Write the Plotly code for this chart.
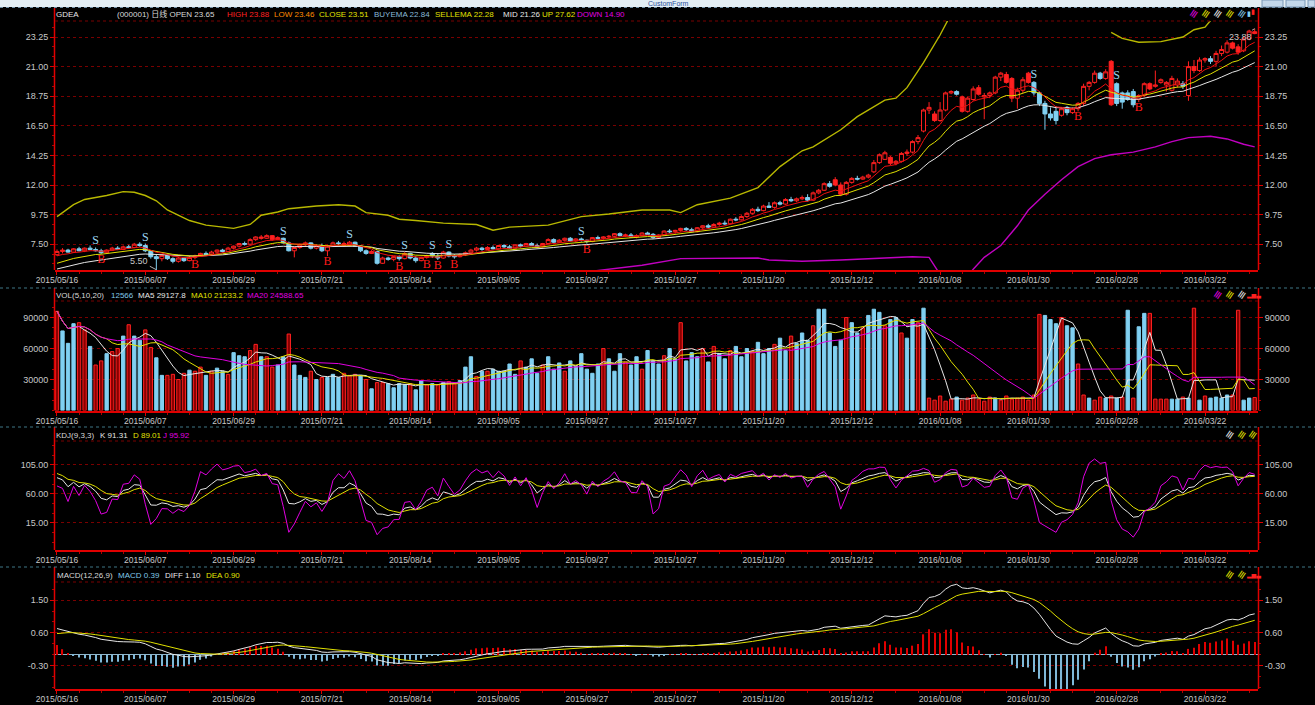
import plotly.graph_objects as go

W, H = 1315, 705
FONT = "Liberation Sans, Arial, Noto Sans CJK SC, sans-serif"

# ---------------- data ----------------
date_labels = ["2015/05/16", "2015/06/07", "2015/06/29", "2015/07/21", "2015/08/14",
               "2015/09/05", "2015/09/27", "2015/10/27", "2015/11/20", "2015/12/12",
               "2016/01/08", "2016/01/30", "2016/02/28", "2016/03/22"]
date_pos = [0, 16, 32, 48, 64, 80, 96, 112, 128, 144, 160, 176, 192, 208]

opens = [6.70, 6.95, 7.05, 6.90, 7.15, 7.00, 7.20, 7.10, 7.00, 6.85,
         7.05, 7.20, 7.10, 7.30, 7.25, 7.50, 7.40, 7.00, 6.55, 6.40,
         6.65, 6.40, 6.20, 6.45, 6.25, 6.50, 6.60, 6.80, 6.70, 6.90,
         7.05, 6.95, 7.20, 7.35, 7.55, 7.50, 7.85, 8.05, 7.95, 8.15,
         7.85, 7.95, 7.60, 7.00, 7.25, 7.45, 7.60, 7.20, 7.40, 7.00,
         7.35, 7.60, 7.55, 7.40, 7.65, 7.35, 7.00, 6.80, 6.95, 6.05,
         6.45, 6.35, 6.55, 6.40, 6.80, 6.45, 6.25, 6.50, 6.80, 6.60,
         6.45, 6.90, 6.60, 6.55, 6.70, 6.85, 7.05, 7.20, 7.10, 7.25,
         7.15, 7.40, 7.30, 7.20, 7.45, 7.35, 7.55, 7.40, 7.30, 7.55,
         7.85, 7.65, 7.80, 7.95, 7.75, 7.90, 7.80, 7.70, 8.00, 7.95,
         8.05, 8.10, 8.30, 8.15, 8.20, 8.05, 8.15, 8.35, 8.25, 8.00,
         8.20, 8.50, 8.45, 8.55, 8.70, 8.60, 8.45, 8.75, 8.90, 8.80,
         9.00, 9.10, 9.05, 9.40, 9.35, 9.60, 9.85, 10.15, 10.05, 10.40,
         10.30, 10.65, 10.55, 10.90, 10.80, 10.95, 11.05, 10.85, 11.40, 11.60,
         12.10, 12.40, 12.00, 11.30, 12.20, 12.50, 12.45, 12.60, 13.00, 13.70,
         13.95, 14.10, 13.65, 13.80, 14.40, 14.50, 15.30, 16.10, 17.70, 17.40,
         16.90, 17.70, 19.00, 19.10, 18.70, 17.60, 18.50, 19.40, 18.70, 18.80,
         19.00, 20.20, 20.40, 20.10, 18.60, 19.20, 20.50, 19.80, 19.00, 18.20,
         17.40, 17.60, 17.30, 17.90, 17.50, 17.80, 18.20, 19.50, 19.80, 20.50,
         20.10, 21.40, 19.70, 19.00, 19.00, 19.10, 18.50, 18.80, 19.70, 19.50,
         19.80, 19.60, 19.20, 19.60, 19.70, 18.80, 21.00, 20.70, 21.50, 21.60,
         21.40, 22.00, 22.10, 22.80, 22.50, 22.20, 23.10, 23.65]

highs = [7.10, 7.20, 7.15, 7.20, 7.30, 7.25, 7.40, 7.25, 7.15, 7.10,
         7.30, 7.35, 7.40, 7.45, 7.60, 7.65, 7.55, 7.05, 6.70, 6.75,
         6.70, 6.50, 6.55, 6.50, 6.60, 6.70, 6.85, 6.95, 7.00, 7.10,
         7.15, 7.30, 7.40, 7.60, 7.70, 7.95, 8.10, 8.20, 8.25, 8.20,
         8.10, 8.00, 7.70, 7.30, 7.55, 7.70, 7.65, 7.50, 7.55, 7.45,
         7.70, 7.75, 7.70, 7.75, 7.70, 7.40, 7.10, 7.05, 7.00, 6.55,
         6.55, 6.60, 6.65, 6.90, 6.85, 6.60, 6.55, 6.70, 6.90, 6.80,
         7.00, 6.95, 6.75, 6.80, 6.95, 7.15, 7.30, 7.30, 7.35, 7.40,
         7.45, 7.50, 7.45, 7.50, 7.55, 7.60, 7.65, 7.55, 7.60, 7.95,
         7.95, 7.90, 8.00, 8.05, 7.95, 8.00, 7.85, 8.05, 8.15, 8.10,
         8.20, 8.35, 8.40, 8.30, 8.35, 8.25, 8.40, 8.45, 8.35, 8.25,
         8.55, 8.65, 8.60, 8.75, 8.80, 8.75, 8.80, 8.95, 9.05, 9.10,
         9.20, 9.30, 9.45, 9.55, 9.70, 9.95, 10.25, 10.35, 10.50, 10.70,
         10.75, 10.80, 11.00, 11.10, 11.05, 11.20, 11.30, 11.50, 11.70, 12.20,
         12.30, 12.60, 12.20, 12.30, 12.60, 12.70, 12.70, 12.85, 13.90, 14.40,
         14.60, 14.20, 13.90, 14.50, 14.70, 15.40, 15.80, 17.80, 18.30, 17.60,
         18.30, 19.10, 19.20, 19.20, 18.80, 18.70, 19.50, 19.60, 19.00, 19.10,
         20.30, 20.60, 20.60, 20.20, 19.40, 20.20, 20.60, 19.90, 19.10, 18.40,
         17.90, 18.00, 17.90, 18.00, 17.90, 18.30, 19.70, 19.90, 20.70, 20.60,
         20.80, 21.50, 19.80, 19.10, 19.20, 19.30, 18.90, 19.80, 19.80, 20.70,
         20.10, 19.90, 20.30, 20.10, 19.90, 21.40, 21.50, 21.70, 21.70, 21.80,
         22.20, 22.60, 23.00, 22.90, 22.70, 23.30, 23.80, 23.88]

lows = [6.60, 6.80, 6.85, 6.85, 6.95, 6.90, 7.05, 6.95, 6.75, 6.80,
        7.00, 7.05, 7.05, 7.15, 7.20, 7.30, 6.90, 6.40, 5.50, 6.20,
        6.30, 6.05, 6.10, 6.15, 6.20, 6.35, 6.55, 6.60, 6.65, 6.80,
        6.85, 6.90, 7.10, 7.25, 7.40, 7.45, 7.75, 7.85, 7.90, 7.75,
        7.80, 7.55, 6.95, 6.50, 7.15, 7.35, 7.10, 7.10, 6.90, 6.60,
        7.30, 7.45, 7.30, 7.35, 7.30, 6.90, 6.70, 6.75, 5.95, 6.00,
        6.25, 6.20, 6.25, 6.35, 6.35, 6.10, 6.20, 6.40, 6.45, 6.30,
        6.40, 6.50, 6.40, 6.50, 6.60, 6.80, 6.95, 7.00, 7.05, 7.10,
        7.10, 7.20, 7.15, 7.15, 7.25, 7.30, 7.35, 7.20, 7.25, 7.50,
        7.55, 7.60, 7.70, 7.70, 7.65, 7.70, 7.55, 7.65, 7.85, 7.85,
        7.95, 8.05, 8.10, 8.05, 8.00, 7.95, 8.10, 8.20, 7.90, 7.95,
        8.15, 8.35, 8.30, 8.45, 8.50, 8.40, 8.40, 8.65, 8.70, 8.75,
        8.90, 8.95, 9.00, 9.25, 9.30, 9.50, 9.75, 9.95, 10.00, 10.25,
        10.20, 10.45, 10.50, 10.70, 10.70, 10.85, 10.75, 10.80, 11.30, 11.55,
        11.80, 11.90, 11.15, 11.20, 12.10, 12.35, 12.40, 12.50, 12.90, 13.60,
        13.90, 13.50, 13.50, 13.70, 14.20, 14.40, 15.10, 16.00, 17.40, 16.80,
        16.80, 17.60, 18.90, 18.80, 17.50, 17.50, 18.40, 18.80, 17.00, 18.60,
        18.90, 19.90, 19.70, 18.30, 17.80, 19.00, 19.70, 18.80, 18.00, 16.20,
        16.90, 16.60, 17.20, 17.30, 17.40, 17.60, 18.00, 19.20, 19.70, 20.00,
        20.00, 18.00, 18.00, 17.80, 18.40, 17.90, 18.30, 18.70, 19.20, 19.40,
        19.70, 19.10, 19.10, 19.40, 19.30, 18.40, 20.50, 20.60, 21.30, 21.20,
        21.00, 21.80, 22.00, 22.30, 21.90, 22.10, 23.00, 23.46]

closes = [6.95, 7.05, 6.90, 7.15, 7.00, 7.20, 7.10, 7.00, 6.85, 7.05,
          7.20, 7.10, 7.30, 7.25, 7.50, 7.40, 7.00, 6.55, 6.40, 6.65,
          6.40, 6.20, 6.45, 6.25, 6.50, 6.60, 6.80, 6.70, 6.90, 7.05,
          6.95, 7.20, 7.35, 7.55, 7.50, 7.85, 8.05, 7.95, 8.15, 7.85,
          8.00, 7.60, 7.00, 7.25, 7.45, 7.60, 7.20, 7.40, 7.00, 7.35,
          7.60, 7.55, 7.40, 7.65, 7.35, 7.00, 6.80, 6.95, 6.05, 6.45,
          6.35, 6.55, 6.40, 6.80, 6.45, 6.25, 6.50, 6.60, 6.60, 6.45,
          6.90, 6.60, 6.55, 6.70, 6.85, 7.05, 7.20, 7.10, 7.25, 7.15,
          7.40, 7.30, 7.20, 7.45, 7.35, 7.55, 7.40, 7.30, 7.55, 7.85,
          7.65, 7.80, 7.95, 7.75, 7.90, 7.80, 7.70, 8.00, 7.95, 8.05,
          8.10, 8.30, 8.15, 8.20, 8.05, 8.15, 8.35, 8.25, 8.00, 8.20,
          8.50, 8.45, 8.55, 8.70, 8.60, 8.45, 8.75, 8.90, 8.80, 9.00,
          9.10, 9.05, 9.40, 9.35, 9.60, 9.85, 10.15, 10.05, 10.40, 10.30,
          10.65, 10.55, 10.90, 10.80, 10.95, 11.05, 10.85, 11.40, 11.60, 12.10,
          11.90, 12.00, 11.30, 12.20, 12.50, 12.45, 12.60, 12.75, 13.70, 14.30,
          14.45, 13.65, 13.80, 14.40, 14.50, 15.30, 15.60, 17.70, 17.90, 16.90,
          17.70, 19.00, 19.10, 18.90, 17.60, 18.60, 19.30, 18.90, 18.80, 19.00,
          20.20, 20.50, 19.80, 18.60, 19.20, 20.00, 19.80, 19.00, 18.20, 17.40,
          17.10, 16.90, 17.80, 17.50, 17.80, 18.20, 19.50, 19.80, 20.50, 20.10,
          20.60, 18.10, 18.20, 18.30, 18.50, 18.10, 18.80, 19.70, 19.30, 19.60,
          20.00, 19.80, 20.10, 19.90, 19.50, 21.00, 20.70, 21.50, 21.60, 21.40,
          22.00, 22.30, 22.80, 22.40, 22.10, 23.10, 23.70, 23.51]

volumes = [96000, 77000, 65000, 84000, 85000, 78000, 62000, 44000, 48000, 55000,
           57000, 60000, 72000, 83000, 72000, 68000, 78000, 61000, 51000, 34000,
           34000, 35000, 30000, 36000, 39000, 38000, 42000, 34000, 38000, 41000,
           38000, 35000, 56000, 53000, 52000, 58000, 64000, 52000, 52000, 42000,
           44000, 52000, 74000, 44000, 34000, 32000, 38000, 30000, 32000, 32000,
           35000, 32000, 36000, 34000, 35000, 34000, 30000, 21000, 27000, 27000,
           26000, 22000, 26000, 25000, 26000, 20000, 29000, 25000, 26000, 25000,
           27000, 28000, 26000, 29000, 42000, 52000, 33000, 38000, 38000, 40000,
           38000, 38000, 45000, 35000, 48000, 42000, 50000, 36000, 44000, 52000,
           40000, 46000, 38000, 48000, 43000, 55000, 40000, 36000, 45000, 60000,
           50000, 38000, 55000, 47000, 44000, 52000, 40000, 58000, 48000, 45000,
           53000, 60000, 50000, 85000, 48000, 56000, 52000, 60000, 47000, 62000,
           55000, 50000, 58000, 62000, 52000, 60000, 57000, 66000, 55000, 60000,
           64000, 70000, 58000, 72000, 65000, 75000, 68000, 82000, 98000, 98000,
           75000, 62000, 68000, 90000, 85000, 75000, 80000, 92000, 98000, 95000,
           82000, 88000, 90000, 75000, 70000, 88000, 85000, 99000, 12000, 10000,
           14000, 9000, 11000, 13000, 10000, 12000, 15000, 11000, 9000, 13000,
           12000, 10000, 14000, 11000, 12000, 13000, 10000, 15000, 93000, 92000,
           88000, 84000, 90000, 82000, 80000, 45000, 15000, 12000, 10000, 13000,
           12000, 14000, 12000, 13000, 97000, 12000, 81000, 94000, 94000, 11000,
           11000, 11000, 11000, 11000, 13000, 12000, 99000, 10000, 14000, 12000,
           13000, 12000, 15000, 15000, 97000, 10000, 12000, 12566]

# 1 = red volume bar, 0 = blue volume bar
vol_red = [1, 0, 0, 0, 1, 1, 0, 1, 1, 0,
           1, 1, 0, 1, 0, 0, 1, 1, 0, 0,
           1, 1, 1, 1, 0, 1, 1, 0, 1, 0,
           0, 1, 0, 0, 0, 1, 1, 0, 1, 1,
           0, 0, 1, 0, 0, 0, 1, 0, 1, 0,
           0, 0, 1, 1, 1, 0, 1, 0, 1, 1,
           0, 0, 0, 0, 1, 0, 0, 1, 0, 1,
           0, 1, 1, 0, 0, 0, 1, 0, 1, 0,
           0, 0, 0, 0, 1, 0, 0, 0, 1, 0,
           0, 0, 1, 0, 0, 0, 0, 0, 0, 1,
           0, 0, 0, 1, 0, 0, 1, 0, 0, 0,
           1, 0, 0, 1, 0, 0, 0, 1, 0, 1,
           0, 0, 1, 0, 0, 0, 1, 0, 0, 0,
           1, 0, 0, 1, 0, 0, 0, 1, 0, 0,
           0, 0, 0, 1, 0, 0, 1, 0, 0, 0,
           1, 0, 0, 1, 0, 0, 1, 0, 1, 1,
           1, 1, 1, 0, 1, 1, 1, 1, 1, 1,
           0, 1, 1, 1, 1, 1, 1, 1, 1, 0,
           0, 0, 1, 0, 0, 1, 1, 0, 1, 1,
           0, 1, 0, 1, 0, 1, 0, 0, 1, 1,
           1, 1, 0, 0, 1, 0, 1, 0, 1, 0,
           0, 0, 0, 1, 1, 0, 0, 1]

red_filled = [37, 39, 52, 141, 142, 151, 159, 164, 167, 172, 173, 176, 191, 198, 206, 213, 214, 217]
sell_idx = [7, 16, 41, 53, 63, 68, 71, 95, 177, 192]
buy_idx = [8, 25, 49, 62, 67, 69, 72, 96, 185, 196]

up_idx = [0, 3, 5, 9, 12, 14, 16, 18, 20, 24, 27, 32, 35, 37, 40, 42, 47, 51, 54, 56,
          60, 62, 65, 70, 76, 79, 82, 89, 95, 100, 106, 111, 113, 116, 122, 127, 131, 135, 137, 142,
          145, 150, 152, 154, 157, 160, 162, None, 191, 193, 196, 200, 204, 206, 208, 211, 217]
up_val = [9.6, 10.5, 10.9, 11.2, 11.5, 11.45, 11.2, 10.8, 10.1, 9.3, 8.95, 8.7, 9.0, 9.7, 9.95, 10.2, 10.4, 10.5, 10.4, 9.9,
          9.7, 9.4, 9.3, 9.1, 9.0, 8.56, 8.8, 8.95, 9.6, 9.8, 10.1, 10.1, 9.9, 10.5, 11.0, 11.8, 13.4, 14.6, 14.9, 16.2,
          17.2, 18.45, 18.6, 19.4, 21.3, 23.4, 25.0, None, 23.6, 23.15, 22.85, 22.9, 23.25, 23.8, 24.0, 25.5, 27.62]
down_idx = [92, 99, 106, 113, 120, 127, 129, 135, 142, 150, 155, 158, 160, 162, 164, 166, 168, 171, 174, 176,
            179, 182, 185, 188, 191, 195, 199, 202, 205, 209, 212, 215, 217]
down_val = [5.2, 5.55, 5.9, 6.4, 6.45, 6.45, 6.3, 6.2, 6.3, 6.45, 6.55, 6.5, 5.2, 4.3, 4.5, 5.6, 6.5, 7.4, 8.9, 10.1,
            11.3, 12.4, 13.4, 14.0, 14.3, 14.5, 14.9, 15.3, 15.6, 15.7, 15.5, 15.1, 14.9]

n = len(closes)
assert len(opens) == n and len(highs) == n and len(lows) == n and len(volumes) == n and len(vol_red) == n
assert len(up_idx) == len(up_val) and len(down_idx) == len(down_val)
idx = list(range(n))


# ---------------- indicators derived from the data ----------------
def ema(vals, span, seed):
    a = 2.0 / (span + 1)
    out, prev = [], seed
    for v in vals:
        prev = a * v + (1 - a) * prev
        out.append(prev)
    return out


def sma(vals, w):
    out = []
    for i in range(len(vals)):
        s = vals[max(0, i - w + 1): i + 1]
        out.append(sum(s) / len(s))
    return out


buy_ema = ema(closes, 7, 6.5)
sell_ema = ema(closes, 13, 5.9)
mid_line = ema(closes, 24, 5.5)

vma5, vma10, vma20 = sma(volumes, 5), sma(volumes, 10), sma(volumes, 20)

K, D, J = [], [], []
kp, dp = 93.0, 95.0
for i in range(n):
    lo = min(lows[max(0, i - 8): i + 1])
    hi = max(highs[max(0, i - 8): i + 1])
    rsv = (closes[i] - lo) / (hi - lo) * 100 if hi > lo else 50
    kp = (2 * kp + rsv) / 3
    dp = (2 * dp + kp) / 3
    K.append(kp); D.append(dp); J.append(3 * kp - 2 * dp)

e12 = ema(closes, 12, 6.85)
e26 = ema(closes, 26, 6.08)
diff = [a - b for a, b in zip(e12, e26)]
dea = ema(diff, 9, 0.55)
macd = [2 * (a - b) for a, b in zip(diff, dea)]

# ---------------- colours ----------------
RED = "#ff2020"
AXRED = "#e00000"
GRID = "#7a0000"
BLUE = "#80d0f2"
YEL = "#e0e000"
OLIVE = "#b8b800"
MAG = "#e000e0"
WHITE = "#e6e6e6"
LBL = "#c8c8c8"

fig = go.Figure()

# ---------------- main panel ----------------
normal = [i for i in idx if i not in red_filled]
fig.add_trace(go.Candlestick(
    x=normal, open=[opens[i] for i in normal], high=[highs[i] for i in normal],
    low=[lows[i] for i in normal], close=[closes[i] for i in normal],
    increasing=dict(line=dict(color=RED, width=1), fillcolor="#000000"),
    decreasing=dict(line=dict(color=BLUE, width=1), fillcolor=BLUE),
    whiskerwidth=0, hoverinfo="skip", xaxis="x", yaxis="y"))
fig.add_trace(go.Candlestick(
    x=red_filled, open=[opens[i] for i in red_filled], high=[highs[i] for i in red_filled],
    low=[lows[i] for i in red_filled], close=[closes[i] for i in red_filled],
    increasing=dict(line=dict(color=RED, width=1), fillcolor=RED),
    decreasing=dict(line=dict(color=RED, width=1), fillcolor=RED),
    whiskerwidth=0, hoverinfo="skip", xaxis="x", yaxis="y"))


def line(x, y, color, xa, ya, width=1.0):
    fig.add_trace(go.Scatter(x=x, y=y, mode="lines", line=dict(color=color, width=width),
                             hoverinfo="skip", connectgaps=False, xaxis=xa, yaxis=ya))


line(idx, mid_line, WHITE, "x", "y")
line(idx, sell_ema, YEL, "x", "y")
line(idx, buy_ema, "#ee1010", "x", "y")
line(up_idx, up_val, OLIVE, "x", "y", 1.4)
line(down_idx, down_val, "#c000c0", "x", "y", 1.4)

fig.add_trace(go.Scatter(x=sell_idx, y=[highs[i] for i in sell_idx], mode="text",
                         text=["S"] * len(sell_idx), textposition="top center",
                         textfont=dict(family="Liberation Serif, serif", size=12, color="#9ad4f0"),
                         cliponaxis=False, hoverinfo="skip", xaxis="x", yaxis="y"))
fig.add_trace(go.Scatter(x=buy_idx, y=[lows[i] for i in buy_idx], mode="text",
                         text=["B"] * len(buy_idx), textposition="bottom center",
                         textfont=dict(family="Liberation Serif, serif", size=12, color="#ff1a1a"),
                         cliponaxis=False, hoverinfo="skip", xaxis="x", yaxis="y"))

# ---------------- volume panel ----------------
fig.add_trace(go.Bar(x=idx, y=volumes, width=0.6,
                     marker=dict(color=["#8a0000" if u else BLUE for u in vol_red],
                                 line=dict(color=[RED if u else BLUE for u in vol_red], width=1)),
                     hoverinfo="skip", xaxis="x2", yaxis="y2"))
line(idx, vma5, WHITE, "x2", "y2")
line(idx, vma10, YEL, "x2", "y2")
line(idx, vma20, MAG, "x2", "y2")

# ---------------- KDJ panel ----------------
line(idx, K, WHITE, "x3", "y3")
line(idx, D, YEL, "x3", "y3")
line(idx, J, MAG, "x3", "y3")

# ---------------- MACD panel ----------------
fig.add_trace(go.Bar(x=idx, y=macd, width=0.2,
                     marker=dict(color=["#e00000" if v >= 0 else "#7fb8d8" for v in macd], line=dict(width=0)),
                     hoverinfo="skip", xaxis="x4", yaxis="y4"))
line(idx, diff, WHITE, "x4", "y4")
line(idx, dea, YEL, "x4", "y4")

# ---------------- axes ----------------
XD = [55 / W, 1258 / W]
XR = [-0.36, 217.6]


def py(p):
    return 1 - p / H


panels = [
    dict(top=21, bot=270, ptop=8, rng=[5.539, 24.466], tv=[7.5, 9.75, 12, 14.25, 16.5, 18.75, 21, 23.25],
         tt=["7.50", "9.75", "12.00", "14.25", "16.50", "18.75", "21.00", "23.25"], minor=0.75),
    dict(top=301, bot=410.5, ptop=288, rng=[0, 105960], tv=[30000, 60000, 90000],
         tt=["30000", "60000", "90000"], minor=10000),
    dict(top=441, bot=550, ptop=427, rng=[-26.9, 142.2], tv=[15, 60, 105],
         tt=["15.00", "60.00", "105.00"], minor=15),
    dict(top=582, bot=689, ptop=567, rng=[-0.928, 1.991], tv=[-0.3, 0.6, 1.5],
         tt=["-0.30", "0.60", "1.50"], minor=0.3),
]

lay = {}
shapes = []
for k, p in enumerate(panels, start=1):
    sx = "" if k == 1 else str(k)
    tf = dict(size=8.5, color=LBL, family=FONT)
    lay["xaxis" + sx] = dict(domain=XD, range=XR, anchor="y" + sx, tickmode="array", tickvals=date_pos,
                             ticktext=date_labels, ticks="outside", ticklen=3, tickcolor=AXRED,
                             tickfont=tf, showline=True, linecolor=AXRED, linewidth=2, showgrid=False,
                             zeroline=False, fixedrange=True, automargin=False, ticklabelstandoff=-2,
                             rangeslider=dict(visible=False),
                             minor=dict(tickmode="linear", tick0=0, dtick=4, ticks="outside", ticklen=2,
                                        tickcolor="#b00000", showgrid=False))
    common = dict(range=p["rng"], tickmode="array", tickvals=p["tv"], ticktext=p["tt"], ticks="outside",
                  ticklen=4, tickcolor=AXRED, tickfont=dict(size=9, color=LBL, family=FONT),
                  showline=False, fixedrange=True, automargin=False,
                  minor=dict(tickmode="linear", tick0=0, dtick=p["minor"], ticks="outside", ticklen=2,
                             tickcolor="#b00000", showgrid=False))
    lay["yaxis" + sx] = dict(domain=[py(p["bot"]), py(p["top"])], anchor="x" + sx, side="left",
                             showgrid=True, gridcolor=GRID, griddash="dot", gridwidth=1,
                             zeroline=(k == 4), zerolinecolor="#8fb6cc", zerolinewidth=1, **common)
    lay["yaxis" + str(k + 4)] = dict(overlaying="y" + sx, anchor="x" + sx, side="right",
                                     showgrid=False, zeroline=False, **common)
    fig.add_trace(go.Scatter(x=[XR[0]], y=[p["rng"][0]], mode="markers", marker=dict(opacity=0),
                             hoverinfo="skip", xaxis="x" + sx, yaxis="y" + str(k + 4)))
    for xp in (54.5, 1258.5):
        shapes.append(dict(type="line", xref="paper", yref="paper", x0=xp / W, x1=xp / W,
                           y0=py(p["bot"]), y1=py(p["ptop"]), line=dict(color=AXRED, width=1.5)))
    shapes.append(dict(type="line", xref="paper", yref="paper", x0=55 / W, x1=1258 / W,
                       y0=py(p["top"]), y1=py(p["top"]), line=dict(color=GRID, width=1, dash="dot")))

for yp in (288, 427, 567):
    shapes.append(dict(type="line", xref="paper", yref="paper", x0=0, x1=1, y0=py(yp), y1=py(yp),
                       line=dict(color="#3f7686", width=1, dash="dot")))
shapes.append(dict(type="rect", xref="paper", yref="paper", x0=0, x1=1, y0=py(7), y1=1,
                   fillcolor="#e3edf3", line=dict(width=0), layer="above"))
shapes.append(dict(type="line", xref="paper", yref="paper", x0=0, x1=1, y0=py(7.5), y1=py(7.5),
                   line=dict(color="#6f8fa6", width=1, dash="dot"), layer="above"))
for x0, x1 in ((1262, 1283), (1286, 1305), (1308, 1315)):
    shapes.append(dict(type="rect", xref="paper", yref="paper", x0=x0 / W, x1=x1 / W, y0=py(7), y1=1,
                       fillcolor="#c3d7ea", line=dict(color="#7b98b6", width=1), layer="above"))

ann = []


def label(xp, yp, text, color, size=8):
    ann.append(dict(xref="paper", yref="paper", x=xp / W, y=py(yp), xanchor="left", yanchor="middle",
                    text=text, showarrow=False, borderpad=0, font=dict(family=FONT, size=size, color=color)))


label(55, 14, "GDEA", WHITE)
label(116, 14, "(000001) 日线 OPEN 23.65", "#d8d8d8")
label(226, 14, "HIGH 23.88", "#ff2020")
label(273, 14, "LOW 23.46", "#ff8c00")
label(318, 14, "CLOSE 23.51", YEL)
label(373, 14, "BUYEMA 22.84", "#88b8d8")
label(434, 14, "SELLEMA 22.28", YEL)
label(502, 14, "MID 21.26", WHITE)
label(541, 14, "UP 27.62", YEL)
label(576, 14, "DOWN 14.90", MAG)
label(55, 295, "VOL(5,10,20)", "#d8d8d8")
label(110, 295, "12566", "#80c8e8")
label(137, 295, "MA5 29127.8", WHITE)
label(190, 295, "MA10 21233.2", YEL)
label(246, 295, "MA20 24588.65", MAG)
label(55, 435, "KDJ(9,3,3)", "#d8d8d8")
label(99, 435, "K 91.31", WHITE)
label(132, 435, "D 89.01", YEL)
label(162, 435, "J 95.92", MAG)
label(56, 575, "MACD(12,26,9)", "#d8d8d8")
label(117, 575, "MACD 0.39", "#80c8e8")
label(164, 575, "DIFF 1.10", WHITE)
label(205, 575, "DEA 0.90", YEL)
ann.append(dict(xref="paper", yref="paper", x=690 / W, y=py(3.5), xanchor="right", yanchor="middle",
                text="CustomForm", showarrow=False, borderpad=0,
                font=dict(family=FONT, size=7, color="#2b4f9a")))


def icon(xp, yp, color, txt="≡", size=11, angle=-55):
    ann.append(dict(xref="paper", yref="paper", x=xp / W, y=py(yp), xanchor="center", yanchor="middle",
                    text=txt, textangle=angle, showarrow=False,
                    font=dict(family="DejaVu Sans", size=size, color=color)))


for xp, c in ((1193, MAG), (1205, YEL), (1217, WHITE), (1229, YEL), (1241, "#80c8e8")):
    icon(xp, 14, c)
icon(1249, 14, BLUE, "▮", 7, 0)
icon(1253, 12, RED, "▮", 7, 0)
for xp, c in ((1217, MAG), (1229, YEL), (1241, WHITE)):
    icon(xp, 295, c)
icon(1253, 295, RED, "▂▅▃", 6, 0)
for xp, c in ((1229, WHITE), (1241, YEL), (1252, YEL)):
    icon(xp, 435, c)
for xp, c in ((1229, YEL), (1241, YEL)):
    icon(xp, 575, c)
icon(1253, 575, RED, "▂▅▃", 6, 0)

ann.append(dict(xref="x", yref="y", x=18, y=5.56, text="5.50", showarrow=True, arrowhead=0, arrowwidth=1,
                arrowcolor="#b0b0b0", ax=-17, ay=-9, font=dict(family=FONT, size=9, color="#c8c8c8")))
ann.append(dict(xref="x", yref="y", x=217, y=23.88, text="23.88", showarrow=True, arrowhead=0, arrowwidth=1,
                arrowcolor="#b0b0b0", ax=-14, ay=8, font=dict(family=FONT, size=9, color="#c8c8c8")))

fig.update_layout(width=W, height=H, margin=dict(l=0, r=0, t=0, b=0, autoexpand=False),
                  paper_bgcolor="#000000",
                  plot_bgcolor="#000000", showlegend=False, hovermode=False, dragmode=False,
                  boxgap=0.15, boxgroupgap=0.15,
                  shapes=shapes, annotations=ann, **lay)

fig.write_html("out.html", config={"displayModeBar": False},
               post_script="document.body.style.margin='0';document.body.style.overflow='hidden';")
